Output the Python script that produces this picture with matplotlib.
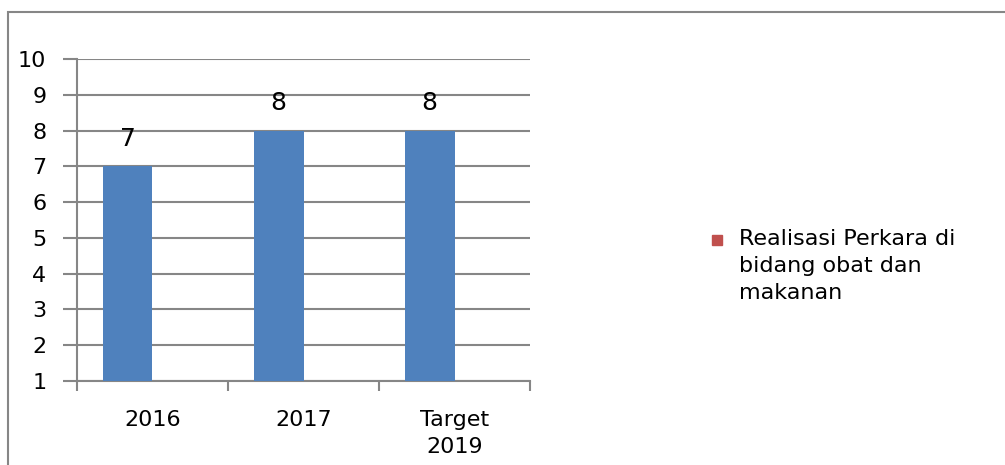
import numpy as np
import matplotlib
matplotlib.use("Agg")
import matplotlib.pyplot as plt
from matplotlib.patches import Rectangle

# Data
kategori = ["2016", "2017", "Target\n2019"]
nilai = [7, 8, 8]
nilai_seri2 = [np.nan, np.nan, np.nan]  # seri kedua (kosong, hanya di legenda)
label_seri2 = "Realisasi Perkara di\nbidang obat dan\nmakanan"

BIRU = "#4F81BD"
MERAH = "#C0504D"
ABU = "#868686"

plt.rcParams["font.family"] = ["DejaVu Sans"]

fig = plt.figure(figsize=(10.05, 4.65), dpi=100)
ax = fig.add_axes([0.0766, 0.1806, 0.4508, 0.6925])

x = np.arange(len(kategori))
w = 0.33
ax.bar(x - w / 2, nilai, width=w, bottom=0, color=BIRU, zorder=3)
ax.bar(x + w / 2, nilai_seri2, width=w, color=MERAH, zorder=3)

for xi, v in zip(x - w / 2, nilai):
    ax.text(xi, v + 0.76, str(v), ha="center", va="center", fontsize=18)

ax.set_ylim(1, 10)
ax.set_xlim(-0.5, len(kategori) - 0.5)
ax.set_yticks(range(1, 11))
ax.yaxis.grid(True, color=ABU, lw=1.5, zorder=0)
ax.set_axisbelow(True)

ax.set_xticks(x)
ax.set_xticklabels(kategori, fontsize=16, linespacing=1.45)
ax.set_xticks(np.arange(-0.5, len(kategori)), minor=True)
ax.tick_params(axis="x", which="major", length=0, pad=21)
ax.tick_params(axis="x", which="minor", length=7, width=1.5, color=ABU)
ax.tick_params(axis="y", length=10, width=1.5, color=ABU, labelsize=16, pad=12)

for s in ["top", "right"]:
    ax.spines[s].set_visible(False)
for s in ["left", "bottom"]:
    ax.spines[s].set_color(ABU)
    ax.spines[s].set_linewidth(1.5)

# legenda (penanda sejajar baris pertama seperti di Excel)
W, H = 1005, 465
fig.patches.append(Rectangle((712 / W, 1 - 245 / H), 10 / W, 10 / H,
                             transform=fig.transFigure, color=MERAH))
fig.text(739 / W, 1 - 229 / H, label_seri2, fontsize=16, va="top", ha="left",
         linespacing=1.45)

# bingkai grafik
fig.patches.append(Rectangle((8 / W, -0.05), 1.2, 1 - 12 / H + 0.05,
                             transform=fig.transFigure, fill=False,
                             edgecolor=ABU, lw=1.5))

fig.savefig("out.png", dpi=100)
